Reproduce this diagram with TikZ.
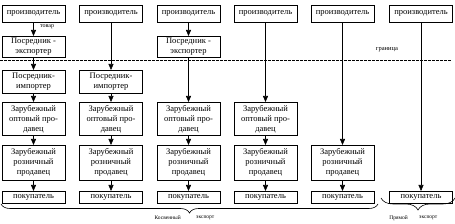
\documentclass[tikz,border=0pt]{standalone}
\usepackage{fontspec}
\setmainfont{Liberation Serif}
\usepackage{tikz}
\usetikzlibrary{arrows.meta,positioning,decorations.pathreplacing}

\begin{document}
\begin{tikzpicture}[x=1pt,y=-1pt,
  box/.style={draw,anchor=north,minimum width=63pt,inner sep=1pt,align=center,line width=0.6pt,
    font=\fontsize{8.5}{10}\selectfont},
  ar/.style={-{Triangle[length=6pt,width=5pt]},line width=0.6pt},
  lbl/.style={font=\fontsize{5.5}{6}\selectfont,inner sep=0pt},
  brc/.style={decorate,decoration={brace,amplitude=9pt},line width=0.6pt}]
\useasboundingbox (0,0) rectangle (455,224);
% --- producers ---
\node[box,minimum height=17pt] (p1) at (33.5,5) {производитель};
\node[box,minimum height=17pt] (p2) at (111,5) {производитель};
\node[box,minimum height=17pt] (p3) at (188.5,5) {производитель};
\node[box,minimum height=17pt] (p4) at (265.5,5) {производитель};
\node[box,minimum height=17pt] (p5) at (342.5,5) {производитель};
\node[box,minimum height=17pt] (p6) at (421,5) {производитель};
% --- exporters and importers ---
\node[box,minimum height=21pt] (ex1) at (33.5,36) {Посредник -\\экспортер};
\node[box,minimum height=21pt] (ex3) at (188.5,36) {Посредник -\\экспортер};
\node[box,minimum height=23pt] (im1) at (33.5,70) {Посредник-\\импортер};
\node[box,minimum height=23pt] (im2) at (111,70) {Посредник-\\импортер};
% --- wholesale sellers ---
\node[box,minimum height=33pt] (w1) at (33.5,102) {Зарубежный\\оптовый про-\\давец};
\node[box,minimum height=33pt] (w2) at (111,102) {Зарубежный\\оптовый про-\\давец};
\node[box,minimum height=33pt] (w3) at (188.5,102) {Зарубежный\\оптовый про-\\давец};
\node[box,minimum height=33pt] (w4) at (265.5,102) {Зарубежный\\оптовый про-\\давец};
% --- retail sellers ---
\node[box,minimum height=35pt] (r1) at (33.5,145) {Зарубежный\\розничный\\продавец};
\node[box,minimum height=35pt] (r2) at (111,145) {Зарубежный\\розничный\\продавец};
\node[box,minimum height=35pt] (r3) at (188.5,145) {Зарубежный\\розничный\\продавец};
\node[box,minimum height=35pt] (r4) at (265.5,145) {Зарубежный\\розничный\\продавец};
\node[box,minimum height=35pt] (r5) at (342.5,145) {Зарубежный\\розничный\\продавец};
% --- buyers ---
\node[box,minimum height=12pt] (b1) at (33.5,191) {покупатель};
\node[box,minimum height=12pt] (b2) at (111,191) {покупатель};
\node[box,minimum height=12pt] (b3) at (188.5,191) {покупатель};
\node[box,minimum height=12pt] (b4) at (265.5,191) {покупатель};
\node[box,minimum height=12pt] (b5) at (342.5,191) {покупатель};
\node[box,minimum height=12pt] (b6) at (421,191) {покупатель};
% --- flows ---
\draw[ar] (p1) -- (ex1); \draw[ar] (ex1) -- (im1); \draw[ar] (im1) -- (w1);
\draw[ar] (w1) -- (r1); \draw[ar] (r1) -- (b1);
\draw[ar] (p2) -- (im2); \draw[ar] (im2) -- (w2); \draw[ar] (w2) -- (r2); \draw[ar] (r2) -- (b2);
\draw[ar] (p3) -- (ex3); \draw[ar] (ex3) -- (w3); \draw[ar] (w3) -- (r3); \draw[ar] (r3) -- (b3);
\draw[ar] (p4) -- (w4); \draw[ar] (w4) -- (r4); \draw[ar] (r4) -- (b4);
\draw[ar] (p5) -- (r5); \draw[ar] (r5) -- (b5);
\draw[ar] (p6) -- (b6);
\node[lbl,anchor=west,font=\fontsize{6}{7}\selectfont] (tov) at (40,27) {товар};
% --- border ---
\coordinate (gl) at (0,60);
\coordinate (gr) at (452,60);
\draw[thin,dash pattern=on 2.5pt off 1.5pt] (gl) -- (gr);
\node[lbl,font=\fontsize{6.5}{7}\selectfont] (gran) at (387,50) {граница};
% --- export kinds ---
\coordinate (k1) at (1,204);
\coordinate (k2) at (378,204);
\coordinate (d1) at (381,198);
\coordinate (d2) at (455,198);
\draw[brc] (k2) -- (k1);
\draw[brc,decoration={amplitude=12pt}] (d2) -- (d1);
\node[lbl,anchor=north east] (kos) at (181,216) {Косвенный};
\node[lbl,anchor=north west] (kex) at (196,216) {экспорт};
\node[lbl,anchor=north east] (pr) at (408,216) {Прямой};
\node[lbl,anchor=north west] (pex) at (419,216) {экспорт};
\end{tikzpicture}
\end{document}
